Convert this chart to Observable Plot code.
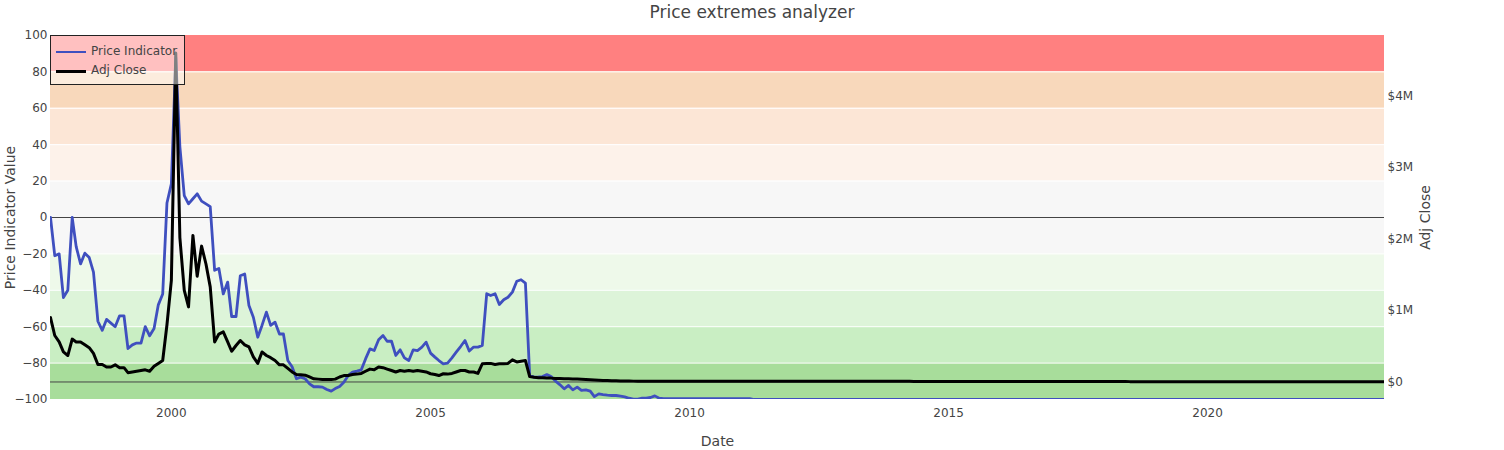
<!DOCTYPE html>
<html>
<head>
<meta charset="utf-8">
<script src="https://cdn.jsdelivr.net/npm/d3@7"></script>
<script src="https://cdn.jsdelivr.net/npm/@observablehq/plot@0.6"></script>
<style>
  html, body { margin: 0; padding: 0; background: #fff; }
  #wrap { position: relative; width: 1504px; height: 450px; font-family: "DejaVu Sans", verdana, arial, sans-serif; color: #444; }
  #chart { position: absolute; left: 0; top: 0; }
  #title { position: absolute; left: 0; top: 0; width: 1504px; height: 30px; line-height: 24px; text-align: center; font-size: 17px; color: #444; }
  #legend { position: absolute; left: 50px; top: 35px; width: 135px; height: 50px; box-sizing: border-box; border: 1px solid #222; background: rgba(255,255,255,0.5); font-size: 12px; color: #444; }
  .item { position: absolute; left: 0; height: 18px; width: 130px; }
  .sw { position: absolute; left: 5px; width: 30px; top: 8px; }
  .lb { position: absolute; left: 40px; top: 0; line-height: 17px; white-space: nowrap; }
</style>
</head>
<body>
<div id="wrap">
  <div id="chart"></div>
  <div id="title"></div>
  <div id="legend"></div>
</div>
<script>
const titleText = "Price extremes analyzer";
const seriesNames = ["Price Indicator", "Adj Close"];
const seriesColors = ["#3f4fbf", "#000000"];
const leftTitle = "Price Indicator Value";
const rightTitle = "Adj Close";
const xTitle = "Date";

const startDate = Date.UTC(1997, 8, 1);
const endDate = Date.UTC(2023, 5, 1);

// Price Indicator, monthly from Sep 1997
const indicator = [
  0, -21, -20, -44, -40, 0, -16, -25.5, -19.6, -22,
  -30, -57, -62, -56, -58, -60, -54, -54, -72, -70,
  -69, -69, -60, -65, -61, -48, -42, 8, 18.5, 88,
  39, 12, 7.5, 10.3, 13, 9, 7.5, 6, -29, -28,
  -42, -35.5, -54.4, -54.4, -32, -31, -48.4, -54.8, -65.8, -59.3,
  -52, -59.3, -57.5, -64, -64, -78.6, -82, -88.6, -87.7, -88.6,
  -91.4, -93, -93, -93.2, -94.5, -95.4, -94, -92.8, -90.5, -86.8,
  -85, -84.4, -83.7, -77.7, -72.2, -73.1, -67.2, -64.8, -68, -68,
  -75.8, -72.7, -77.1, -78.6, -72.7, -73.1, -71.2, -68.5, -74.5, -76.7,
  -78.6, -80.4, -80, -77.1, -74, -70.9, -67.6, -73.4, -71.2, -71.2,
  -70.3, -41.9, -42.9, -41.9, -47.8, -45.2, -43.8, -41, -35, -34.2,
  -36.1, -86.8, -87.7, -87.6, -87.4, -86.3, -87.4, -89.9, -91.8, -94.1,
  -92.3, -94.7, -93.2, -95, -94.7, -95.4, -98.4, -96.9, -97.3, -97.6,
  -97.8, -97.8, -98.2, -98.6, -99.3, -99.8, -99.8, -99.3, -99.3, -98.9,
  -98, -99.3,
  -99.5, -99.5, -99.5, -99.5, -99.5, -99.5, -99.5, -99.5, -99.5, -99.5,
  -99.5, -99.5, -99.5, -99.5, -99.5, -99.5, -99.5, -99.5, -99.5, -99.5, -99.5,
  -100, -100, -100, -100, -100, -100, -100, -100, -100, -100, -100, -100, -100, -100, -100, -100, -100, -100, -100, -100,
  -100, -100, -100, -100, -100, -100, -100, -100, -100, -100, -100, -100, -100, -100, -100, -100, -100, -100, -100, -100,
  -100, -100, -100, -100, -100, -100, -100, -100, -100, -100, -100, -100, -100, -100, -100, -100, -100, -100, -100, -100,
  -100, -100, -100, -100, -100, -100, -100, -100, -100, -100, -100, -100, -100, -100, -100, -100, -100, -100, -100, -100,
  -100, -100, -100, -100, -100, -100, -100, -100, -100, -100, -100, -100, -100, -100, -100, -100, -100, -100, -100, -100,
  -100, -100, -100, -100, -100, -100, -100, -100, -100, -100, -100, -100, -100, -100, -100, -100, -100, -100, -100, -100,
  -100, -100, -100, -100, -100, -100, -100, -100, -100, -100, -100, -100, -100, -100, -100, -100, -100, -100, -100, -100,
  -100, -100, -100, -100, -100, -100, -100
];

// Adj Close in $M, monthly from Sep 1997
const adjClose = [
  0.90, 0.65, 0.56, 0.42, 0.37, 0.60, 0.56, 0.56, 0.52, 0.48,
  0.40, 0.245, 0.245, 0.21, 0.21, 0.24, 0.20, 0.20, 0.13, 0.14,
  0.15, 0.16, 0.17, 0.15, 0.22, 0.26, 0.30, 0.8, 1.42, 4.6,
  2.02, 1.28, 1.05, 2.05, 1.48, 1.90, 1.65, 1.33, 0.56, 0.67,
  0.70, 0.56, 0.43, 0.51, 0.58, 0.52, 0.49, 0.35, 0.26, 0.42,
  0.37, 0.34, 0.30, 0.24, 0.24, 0.19, 0.14, 0.105, 0.10, 0.095,
  0.07, 0.045, 0.04, 0.035, 0.035, 0.035, 0.04, 0.07, 0.09, 0.09,
  0.105, 0.11, 0.12, 0.15, 0.18, 0.17, 0.21, 0.20, 0.18, 0.16,
  0.14, 0.16, 0.15, 0.16, 0.15, 0.16, 0.15, 0.14, 0.115, 0.105,
  0.09, 0.115, 0.11, 0.12, 0.14, 0.16, 0.16, 0.14, 0.14, 0.12,
  0.255, 0.26, 0.26, 0.245, 0.255, 0.255, 0.26, 0.31, 0.28, 0.29,
  0.30, 0.075, 0.065, 0.06, 0.058, 0.056, 0.054, 0.05, 0.048, 0.046,
  0.044, 0.042, 0.04, 0.037, 0.034, 0.031, 0.028, 0.025, 0.022, 0.02,
  0.018, 0.016, 0.015, 0.014, 0.013, 0.012,
  0.011, 0.011, 0.011, 0.011, 0.011, 0.011, 0.011, 0.011, 0.011, 0.011, 0.011, 0.011,
  0.011, 0.011, 0.011, 0.011, 0.011, 0.011, 0.011, 0.011, 0.011, 0.011, 0.011, 0.011,
  0.009, 0.009, 0.009, 0.009, 0.009, 0.009, 0.009, 0.009, 0.009, 0.009,
  0.009, 0.009, 0.009, 0.009, 0.009, 0.009, 0.009, 0.009, 0.009, 0.009,
  0.009, 0.009, 0.009, 0.009, 0.009, 0.009, 0.009, 0.009, 0.009, 0.009,
  0.009, 0.009, 0.009, 0.009, 0.009, 0.009, 0.009, 0.009, 0.009, 0.009,
  0.007, 0.007, 0.007, 0.007, 0.007, 0.007, 0.007, 0.007, 0.007, 0.007,
  0.007, 0.007, 0.007, 0.007, 0.007, 0.007, 0.007, 0.007, 0.007, 0.007,
  0.007, 0.007, 0.007, 0.007, 0.007, 0.007, 0.007, 0.007, 0.007, 0.007,
  0.007, 0.007, 0.007, 0.007, 0.007, 0.007, 0.007, 0.007, 0.007, 0.007,
  0.007, 0.007, 0.007, 0.007, 0.007, 0.007, 0.007, 0.007, 0.007, 0.007,
  0.005, 0.005, 0.005, 0.005, 0.005, 0.005, 0.005, 0.005, 0.005, 0.005,
  0.005, 0.005, 0.005, 0.005, 0.005, 0.005, 0.005, 0.005, 0.005, 0.005,
  0.005, 0.005, 0.005, 0.005, 0.005, 0.005, 0.005, 0.005, 0.005, 0.005,
  0.005, 0.005, 0.005, 0.005, 0.005, 0.005, 0.005, 0.005, 0.005, 0.005,
  0.005, 0.005, 0.005, 0.005, 0.005, 0.005, 0.005, 0.005, 0.005, 0.005,
  0.005, 0.005, 0.005, 0.005, 0.005, 0.005, 0.005, 0.005, 0.005, 0.005
];

// Background zones on the indicator axis
const bandLow  = [80, 60, 40, 20, 0, -20, -40, -60, -80, -100];
const bandHigh = [100, 80, 60, 40, 20, 0, -20, -40, -60, -80];
const bandColors = ["#ff8080", "#f8d8bb", "#fce6d6", "#fdf2ea", "#f7f7f7", "#f7f7f7", "#eef9ea", "#ddf4d9", "#c9eec3", "#a8dd9b"];

const leftTicks = [-100, -80, -60, -40, -20, 0, 20, 40, 60, 80, 100];
const gridTicks = [-80, -60, -40, -20, 20, 40, 60, 80];
const rightTicks = [0, 1, 2, 3, 4];
const rightLabels = ["$0", "$1M", "$2M", "$3M", "$4M"];
const rightDomain = [-0.245, 4.846];
const xTickYears = [2000, 2005, 2010, 2015, 2020];

// map right-axis value ($M) onto the shared indicator scale
const toLeft = m => -100 + (m - rightDomain[0]) / (rightDomain[1] - rightDomain[0]) * 200;
const fromLeft = v => rightDomain[0] + (v + 100) / 200 * (rightDomain[1] - rightDomain[0]);

const dates = d3.utcMonth.range(new Date(startDate), d3.utcMonth.offset(new Date(endDate), 1));
const rows = dates.map((d, i) => ({date: d, ind: indicator[i], adj: adjClose[i]}));
const bands = bandLow.map((lo, i) => ({lo, hi: bandHigh[i], c: bandColors[i]}));
const x0 = new Date(startDate), x1 = new Date(endDate);
const fmtMinus = v => String(v).replace("-", "\u2212");
const font = '"DejaVu Sans", verdana, arial, sans-serif';

document.getElementById("title").textContent = titleText;

const chart = Plot.plot({
  width: 1504,
  height: 450,
  marginLeft: 50,
  marginRight: 120,
  marginTop: 35,
  marginBottom: 51,
  style: {fontFamily: font, fontSize: "12px", color: "#444", background: "white"},
  x: {type: "utc", domain: [x0, x1]},
  y: {domain: [-100, 100]},
  marks: [
    Plot.rect(bands, {x1: () => x0, x2: () => x1, y1: "lo", y2: "hi", fill: "c"}),
    Plot.ruleY(gridTicks, {stroke: "white", strokeWidth: 1}),
    Plot.ruleY([0], {stroke: "#444", strokeWidth: 1}),
    Plot.ruleY([toLeft(0)], {stroke: "#444", strokeWidth: 1}),
    Plot.line(rows, {x: "date", y: "ind", stroke: seriesColors[0], strokeWidth: 2.8, clip: true}),
    Plot.line(rows, {x: "date", y: d => toLeft(d.adj), stroke: seriesColors[1], strokeWidth: 3, clip: true}),
    Plot.axisY(leftTicks, {anchor: "left", tickSize: 0, tickPadding: 3, label: null, tickFormat: fmtMinus, fill: "#444"}),
    Plot.axisY(rightTicks.map(toLeft), {anchor: "right", tickSize: 0, tickPadding: 3, label: null,
      tickFormat: v => rightLabels[rightTicks.indexOf(Math.round(fromLeft(v)))], fill: "#444"}),
    Plot.axisX(xTickYears.map(y => new Date(Date.UTC(y, 0, 1))), {anchor: "bottom", tickSize: 0, tickPadding: 9, label: null, tickFormat: d3.utcFormat("%Y"), fill: "#444"}),
    Plot.text([leftTitle], {frameAnchor: "left", textAnchor: "middle", dx: -40, rotate: -90, fontSize: 14, fill: "#444"}),
    Plot.text([rightTitle], {frameAnchor: "right", textAnchor: "middle", dx: 41, rotate: -90, fontSize: 14, fill: "#444"}),
    Plot.text([xTitle], {frameAnchor: "bottom", dy: 46, fontSize: 14, fill: "#444"})
  ]
});
document.getElementById("chart").appendChild(chart);

const legend = document.getElementById("legend");
seriesNames.forEach((name, i) => {
  const item = document.createElement("div");
  item.className = "item";
  item.style.top = (7 + i * 19) + "px";
  const sw = document.createElement("div");
  sw.className = "sw";
  sw.style.borderTop = (i === 0 ? 2.5 : 3) + "px solid " + seriesColors[i];
  const lb = document.createElement("div");
  lb.className = "lb";
  lb.textContent = name;
  item.appendChild(sw);
  item.appendChild(lb);
  legend.appendChild(item);
});
</script>
</body>
</html>
